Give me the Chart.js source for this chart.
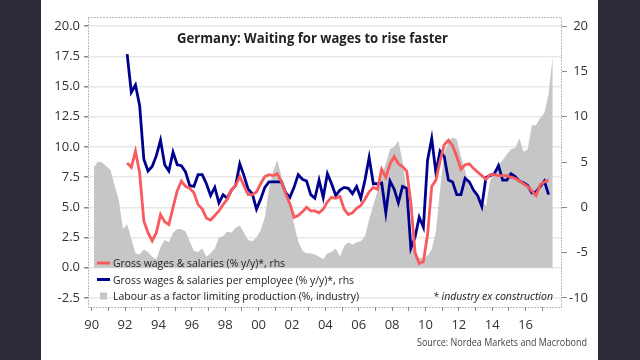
<!DOCTYPE html>
<html>
<head>
<meta charset="utf-8">
<script src="https://cdn.jsdelivr.net/npm/chart.js@4"></script>
<style>
  html, body { margin: 0; padding: 0; background: #2b2b39; }
  canvas { display: block; }
</style>
</head>
<body>
<canvas id="wagesChart" width="640" height="360"></canvas>
<script>
// quarterly data, 1990 Q1 .. 2017 Q3
const firstYear = 1990;
const quarterCount = 111;

// Labour as a factor limiting production (%, industry) - left axis
const labourShortage = [
    8.3, 8.8, 8.7, 8.4,   8.1, 6.8, 5.6, 3.2,   3.6, 2.4, 1.2, 1.1,   1.5, 1.3, 0.9, 0.7,
    1.7, 2.3, 2.1, 2.9,   3.2, 3.2, 3.0, 2.2,   1.4, 1.3, 1.6, 0.9,   1.2, 1.6, 2.5, 2.6,
    3.0, 2.9, 3.3, 3.5,   2.9, 2.3, 2.2, 2.5,   3.1, 4.2, 6.5, 8.0,   8.9, 7.5, 6.4, 5.4,
    3.6, 2.2, 1.4, 1.2,   1.2, 1.1, 0.9, 0.7,   1.2, 1.3, 1.6, 0.9,   1.8, 2.1, 1.9, 2.1,
    2.2, 2.6, 4.0, 5.2,   6.3, 7.6, 8.6, 9.8,   10.0, 10.5, 8.8, 6.3, 3.0, 1.0, 0.8, 0.8,
    1.0, 1.5, 3.0, 6.5,   9.5, 10.4, 10.8, 10.6, 9.2, 8.0, 6.7, 6.4, 6.0, 5.5, 5.1, 7.2,
    7.8, 8.5, 8.9, 9.4,   9.8, 9.9, 10.7, 9.6,  9.8, 11.8, 11.8, 12.4, 12.8, 14.4, 17.5
];

// Gross wages & salaries (% y/y) - right axis
const grossWages = [
    null, null, null, null, null, null, null, null,
    4.9, 4.4, 6.2, 3.8,   -1.5, -2.8, -3.7, -2.8,  -0.8, -1.6, -1.9, 0.0,   1.8, 2.9, 2.3, 2.1,
    1.6, 0.3, -0.2, -1.2, -1.4, -0.9, -0.4, 0.3,   0.9, 1.9, 2.4, 3.4,    2.4, 1.4, 1.4, 1.7,
    2.6, 3.4, 3.6, 3.5,   3.7, 2.8, 1.5, 0.4,      -1.1, -0.9, -0.5, 0.0, -0.4, -0.4, -0.6, -0.2,
    0.6, 1.1, 1.0, 1.2,   -0.2, -0.8, -0.6, -0.1,  0.2, 0.9, 1.7, 2.2,    2.0, 4.2, 3.3, 4.8,
    5.6, 4.8, 4.5, 4.0,   0.5, -5.0, -6.2, -6.0,   -3.0, 2.3, 3.0, 5.1,   6.9, 7.4, 6.8, 5.6,
    4.2, 4.7, 4.8, 4.3,   3.9, 3.5, 3.1, 3.6,      3.6, 3.5, 3.5, 3.5,    3.3, 3.2, 2.9, 2.6,
    2.3, 1.8, 1.3, 2.5,   2.8, 3.0
];

// Gross wages & salaries per employee (% y/y) - right axis
const wagesPerEmployee = [
    null, null, null, null, null, null, null, null,
    16.9, 12.7, 13.5, 11.2, 5.3, 4.0, 4.5, 5.7,   7.4, 4.7, 4.0, 6.1,    4.7, 4.6, 3.9, 2.4,
    2.3, 3.6, 3.6, 2.6,   1.3, 2.2, 0.5, 1.4,      1.0, 1.9, 2.4, 4.8,    3.5, 2.0, 1.5, -0.2,
    0.9, 2.2, 2.8, 2.8,   2.8, 2.8, 1.6, 1.1,      2.2, 3.6, 3.1, 2.9,    1.4, 1.0, 3.0, 1.1,
    3.7, 2.6, 1.3, 1.9,   2.2, 2.1, 1.5, 2.3,      1.0, 3.0, 5.5, 2.6,    2.6, 2.7, -0.6, 2.9,
    2.0, 0.5, 2.3, 2.1,   -4.5, -3.3, -1.1, -2.2,  5.2, 7.6, 3.8, 6.2,    5.6, 3.0, 2.8, 1.4,
    1.4, 3.2, 2.8, 1.9,   1.3, 0.1, 3.3, 3.5,      3.7, 4.6, 3.0, 3.0,    3.7, 3.4, 2.9, 2.7,
    2.4, 1.6, 1.7, 2.3,   2.9, 1.4
];

const leftTicks = [-2.5, 0, 2.5, 5, 7.5, 10, 12.5, 15, 17.5, 20];
const rightTicks = [-10, -5, 0, 5, 10, 15, 20];
const tickYears = [1990, 1991, 1992, 1993, 1994, 1995, 1996, 1997, 1998, 1999, 2000, 2001, 2002, 2003,
    2004, 2005, 2006, 2007, 2008, 2009, 2010, 2011, 2012, 2013, 2014, 2015, 2016, 2017];
const yearLabels = { 1990: '90', 1992: '92', 1994: '94', 1996: '96', 1998: '98', 2000: '00', 2002: '02',
    2004: '04', 2006: '06', 2008: '08', 2010: '10', 2012: '12', 2014: '14', 2016: '16' };

const legendItems = [
    { text: 'Gross wages & salaries (% y/y)*, rhs', color: '#f85a5e', kind: 'line' },
    { text: 'Gross wages & salaries per employee (% y/y)*, rhs', color: '#00008f', kind: 'line' },
    { text: 'Labour as a factor limiting production (%, industry)', color: '#c6c6c6', kind: 'box' }
];

// mid-quarter positions on a decimal-year axis
const quarterX = [];
for (let i = 0; i < quarterCount; i++) {
    quarterX.push(firstYear + Math.floor(i / 4) + ((i % 4) + 0.5) / 4);
}
const toPoints = (values) => values.map((v, i) => ({ x: quarterX[i], y: v }));

const FONT = '"Open Sans", "Noto Sans", sans-serif';

const fitText = (ctx, text, x, y, width, font, color) => {
    ctx.save();
    ctx.font = font;
    ctx.fillStyle = color;
    ctx.textBaseline = 'alphabetic';
    ctx.textAlign = 'left';
    const w = ctx.measureText(text).width;
    ctx.translate(x, y);
    ctx.scale(width / w, 1);
    ctx.fillText(text, 0, 0);
    ctx.restore();
};

const decorations = {
    id: 'decorations',
    beforeDraw(chart) {
        const ctx = chart.ctx;
        ctx.save();
        ctx.fillStyle = '#2b2b39';
        ctx.fillRect(0, 0, chart.width, chart.height);
        ctx.fillStyle = '#ffffff';
        ctx.fillRect(41, 0, 557, chart.height);
        ctx.restore();
    },
    afterDatasetsDraw(chart) {
        const ctx = chart.ctx;
        fitText(ctx, 'Germany: Waiting for wages to rise faster', 177, 43, 271, 'bold 14px ' + FONT, '#222');

        const rows = [
            { y: 263, base: 267, width: 172 },
            { y: 279.5, base: 283.5, width: 241 },
            { y: 296, base: 299.5, width: 246 }
        ];
        legendItems.forEach((item, i) => {
            const r = rows[i];
            ctx.save();
            if (item.kind === 'line') {
                ctx.strokeStyle = item.color;
                ctx.lineWidth = 3;
                ctx.beginPath();
                ctx.moveTo(97, r.y);
                ctx.lineTo(110, r.y);
                ctx.stroke();
            } else {
                ctx.fillStyle = item.color;
                ctx.fillRect(100, r.y - 3.5, 7, 7);
            }
            ctx.restore();
            fitText(ctx, item.text, 113, r.base, r.width, '11.5px ' + FONT, '#222');
        });

        fitText(ctx, '* industry ex construction', 433, 299.5, 120, 'italic 11.5px ' + FONT, '#222');
    },
    afterDraw(chart) {
        const ctx = chart.ctx;
        const a = chart.chartArea;
        ctx.save();
        ctx.strokeStyle = '#777';
        ctx.lineWidth = 1;
        ctx.setLineDash([1, 2]);
        ctx.strokeRect(a.left + 0.5, a.top + 0.5, a.right - a.left - 1, a.bottom - a.top);
        ctx.restore();
        fitText(ctx, 'Source: Nordea Markets and Macrobond', 417, 346, 170, '11px ' + FONT, '#444');
    }
};

const tickFont = { family: FONT, size: 13 };

new Chart(document.getElementById('wagesChart').getContext('2d'), {
    type: 'line',
    data: {
        datasets: [
            {
                label: 'Gross wages & salaries (% y/y)*, rhs',
                data: toPoints(grossWages),
                yAxisID: 'y1',
                borderColor: '#f85a5e',
                borderWidth: 2.8,
                pointRadius: 0,
                tension: 0,
                order: 1
            },
            {
                label: 'Gross wages & salaries per employee (% y/y)*, rhs',
                data: toPoints(wagesPerEmployee),
                yAxisID: 'y1',
                borderColor: '#00008f',
                borderWidth: 2.8,
                pointRadius: 0,
                tension: 0,
                order: 2
            },
            {
                label: 'Labour as a factor limiting production (%, industry)',
                data: toPoints(labourShortage),
                yAxisID: 'y',
                borderWidth: 0,
                borderColor: 'rgba(0,0,0,0)',
                backgroundColor: '#c6c6c6',
                fill: 'origin',
                pointRadius: 0,
                tension: 0,
                order: 3
            }
        ]
    },
    options: {
        responsive: false,
        animation: false,
        layout: { padding: { top: 17, right: 52, left: 0, bottom: 0 } },
        plugins: { legend: { display: false }, tooltip: { enabled: false } },
        scales: {
            x: {
                type: 'linear',
                min: 1989.78,
                max: 2018.18,
                afterBuildTicks: (s) => { s.ticks = tickYears.map(v => ({ value: v })); },
                afterFit: (s) => { s.height = 53; },
                ticks: {
                    autoSkip: false,
                    maxRotation: 0,
                    padding: 6,
                    color: '#333',
                    font: tickFont,
                    callback: (v) => yearLabels[v] || ''
                },
                grid: { drawOnChartArea: false, tickLength: 4, tickColor: '#888' },
                border: { display: false }
            },
            y: {
                position: 'left',
                min: -3.25,
                max: 20.75,
                afterBuildTicks: (s) => { s.ticks = leftTicks.map(v => ({ value: v })); },
                afterFit: (s) => { s.width = 88; },
                ticks: {
                    padding: 4,
                    color: '#333',
                    font: tickFont,
                    callback: (v) => v.toFixed(1)
                },
                grid: { color: '#e8e8e8', lineWidth: 1.5, tickLength: 4, tickColor: '#888' },
                border: { display: false }
            },
            y1: {
                position: 'right',
                min: -11,
                max: 21,
                afterBuildTicks: (s) => { s.ticks = rightTicks.map(v => ({ value: v })); },
                afterFit: (s) => { s.width = 26; },
                ticks: {
                    crossAlign: 'far',
                    padding: 4,
                    color: '#333',
                    font: tickFont,
                    callback: (v) => String(v)
                },
                grid: { drawOnChartArea: false, tickLength: 5, tickColor: '#888' },
                border: { display: false }
            }
        }
    },
    plugins: [decorations]
});
</script>
</body>
</html>
